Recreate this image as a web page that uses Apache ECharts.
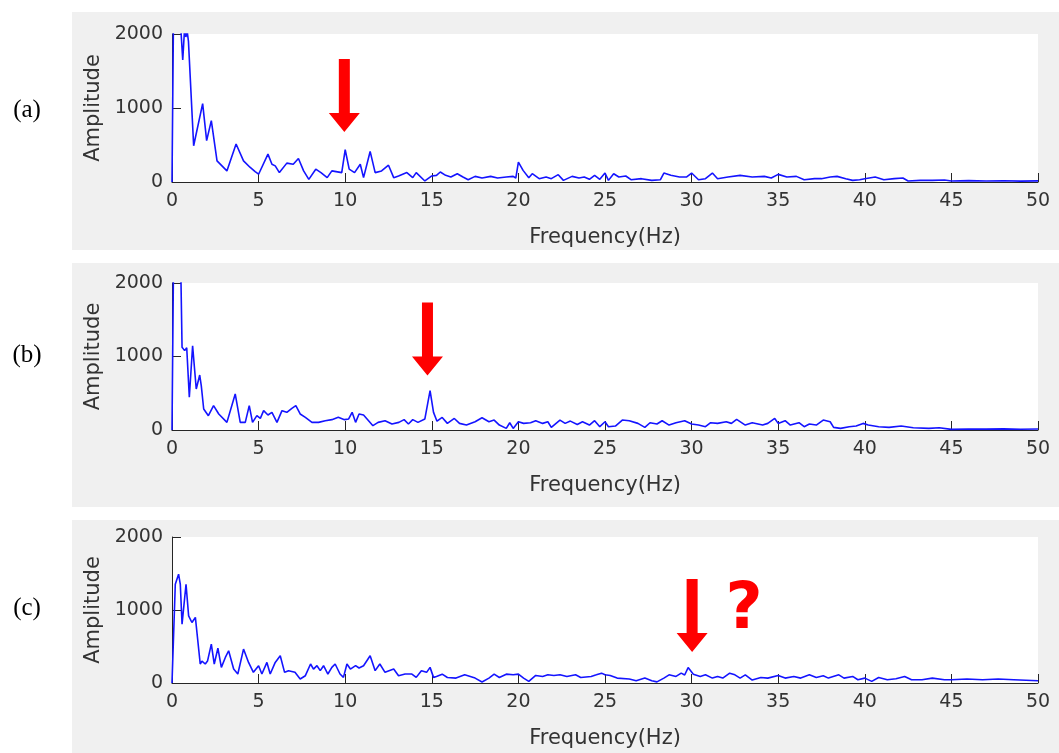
<!DOCTYPE html>
<html>
<head>
<meta charset="utf-8">
<title>Amplitude spectra</title>
<script src="https://cdn.jsdelivr.net/npm/echarts@6/dist/echarts.min.js"></script>
<style>
  html, body { margin: 0; padding: 0; background: #fff; }
  #main { width: 1059px; height: 753px; }
</style>
</head>
<body>
<div id="main"></div>
<script>
// --- data ---
var freqA = [0, 0.1, 0.3, 0.45, 0.62, 0.72, 0.8, 0.88, 0.95, 1.25, 1.77, 2.0, 2.27, 2.6, 3.17, 3.7, 4.13, 4.5, 4.8, 5.0,
  5.54, 5.77, 5.96, 6.2, 6.63, 7.0, 7.3, 7.6, 7.9, 8.3, 8.6, 8.96, 9.23, 9.8, 10.0, 10.23, 10.54, 10.87, 11.06, 11.44,
  11.73, 12.1, 12.5, 12.8, 13.08, 13.56, 13.9, 14.1, 14.6, 15.0, 15.27, 15.49, 15.8, 16.1, 16.47, 16.8, 17.1, 17.5, 17.9, 18.4,
  18.8, 19.3, 19.7, 19.85, 20.0, 20.27, 20.6, 20.8, 21.2, 21.6, 21.9, 22.3, 22.6, 23.1, 23.5, 23.8, 24.1, 24.4, 24.7, 25.0,
  25.2, 25.5, 25.8, 26.2, 26.5, 27.1, 27.7, 28.2, 28.4, 28.8, 29.3, 29.7, 30.0, 30.4, 30.8, 31.2, 31.5, 32.1, 32.8, 33.5,
  34.2, 34.6, 35.0, 35.5, 36.05, 36.5, 37.1, 37.5, 38.0, 38.4, 38.9, 39.3, 39.7, 40.0, 40.6, 41.1, 41.7, 42.2, 42.5, 43.2,
  43.9, 44.6, 45.0, 46, 47, 48, 49, 50];
var ampA = [0, 2600, 2450, 2300, 1650, 2050, 1960, 2030, 1900, 490, 1060, 560, 830, 286, 150, 514, 286, 200, 140, 105,
  377, 240, 218, 127, 255, 240, 318, 150, 36, 173, 127, 59, 150, 127, 436, 173, 127, 240, 59, 413,
  127, 150, 227, 59, 82, 127, 59, 127, 14, 82, 90, 135, 90, 67, 112, 67, 31, 76, 54, 76,
  54, 67, 76, 54, 270, 157, 58, 112, 45, 67, 45, 99, 22, 76, 54, 67, 36, 90, 36, 121,
  22, 112, 67, 81, 31, 45, 22, 31, 121, 90, 67, 67, 121, 31, 45, 121, 45, 67, 90, 67,
  76, 54, 103, 67, 76, 31, 45, 45, 67, 76, 45, 22, 31, 45, 67, 31, 45, 54, 13, 22,
  22, 27, 13, 18, 14, 17, 12, 15];

var freqB = [0, 0.1, 0.3, 0.5, 0.58, 0.73, 0.85, 1.0, 1.19, 1.4, 1.6, 1.69, 1.83, 2.1, 2.4, 2.7, 3.17, 3.65, 3.94, 4.23,
  4.46, 4.65, 4.9, 5.1, 5.29, 5.54, 5.77, 6.06, 6.35, 6.63, 6.92, 7.15, 7.4, 7.7, 8.08, 8.46, 8.85, 9.23, 9.6, 9.96,
  10.2, 10.4, 10.6, 10.8, 11.06, 11.35, 11.6, 11.9, 12.3, 12.7, 13.1, 13.4, 13.65, 13.9, 14.2, 14.6, 14.9, 15.1, 15.3, 15.6,
  15.9, 16.3, 16.6, 17.0, 17.5, 17.9, 18.3, 18.6, 18.9, 19.3, 19.5, 19.7, 20.0, 20.3, 20.7, 21.0, 21.4, 21.7, 21.9, 22.4,
  22.7, 23.0, 23.4, 23.7, 24.1, 24.4, 24.7, 25.0, 25.2, 25.6, 26.0, 26.4, 26.9, 27.3, 27.6, 28.0, 28.3, 28.7, 29.1, 29.6,
  30.0, 30.4, 30.8, 31.1, 31.5, 32.0, 32.3, 32.6, 33.1, 33.5, 34.1, 34.4, 34.8, 35.0, 35.4, 35.7, 36.2, 36.5, 36.8, 37.2,
  37.6, 38.0, 38.2, 38.6, 39.1, 39.5, 39.9, 40.2, 40.8, 41.4, 42.1, 42.8, 43.7, 44.3, 45.0, 46, 47, 48, 49, 50];
var ampB = [0, 2600, 2500, 2300, 1125, 1080, 1120, 445, 1147, 558, 748, 603, 286, 195, 331, 218, 104, 490, 104, 104,
  331, 104, 195, 159, 263, 204, 240, 104, 263, 240, 295, 331, 218, 172, 104, 104, 127, 141, 172, 141,
  150, 240, 104, 218, 204, 127, 59, 104, 127, 82, 104, 141, 82, 141, 104, 150, 535, 240, 120, 171,
  90, 157, 90, 67, 112, 166, 112, 135, 67, 22, 99, 22, 112, 90, 99, 126, 90, 112, 36, 135,
  90, 121, 76, 112, 67, 126, 45, 112, 45, 54, 135, 126, 90, 36, 99, 81, 126, 67, 99, 126,
  81, 67, 45, 99, 90, 112, 90, 144, 67, 99, 67, 90, 157, 90, 126, 67, 99, 45, 81, 67,
  135, 112, 36, 22, 45, 54, 90, 67, 45, 36, 54, 31, 22, 31, 9, 14, 12, 15, 11, 13];

var freqC = [0, 0.19, 0.38, 0.48, 0.58, 0.81, 0.96, 1.15, 1.35, 1.45, 1.63, 1.73, 1.92, 2.05, 2.27, 2.44, 2.65, 2.85, 3.08, 3.27,
  3.56, 3.8, 4.13, 4.42, 4.7, 5.0, 5.19, 5.48, 5.67, 5.96, 6.25, 6.5, 6.73, 7.1, 7.4, 7.7, 8.0, 8.17, 8.37, 8.56,
  8.75, 9.0, 9.23, 9.42, 9.7, 9.9, 10.1, 10.3, 10.6, 10.8, 11.06, 11.44, 11.73, 12.0, 12.3, 12.8, 13.08, 13.46, 13.85, 14.1,
  14.4, 14.7, 14.9, 15.1, 15.27, 15.6, 15.9, 16.4, 16.9, 17.5, 17.9, 18.3, 18.6, 18.9, 19.3, 19.7, 20.0, 20.3, 20.6, 21.0,
  21.4, 21.7, 22.05, 22.4, 22.8, 23.3, 23.6, 24.2, 24.5, 24.8, 25.0, 25.3, 25.7, 26.4, 26.8, 27.3, 27.7, 28.0, 28.4, 28.7,
  29.1, 29.4, 29.6, 29.8, 30.1, 30.5, 30.8, 31.2, 31.5, 31.8, 32.2, 32.5, 32.8, 33.1, 33.5, 34.0, 34.4, 35.0, 35.4, 35.9,
  36.3, 36.8, 37.2, 37.6, 37.9, 38.5, 38.8, 39.3, 39.6, 40.0, 40.4, 40.8, 41.3, 41.8, 42.3, 42.7, 43.3, 43.9, 44.6, 45.0,
  45.9, 46.8, 47.7, 48.6, 50];
var ampC = [0, 1353, 1490, 1350, 806, 1353, 920, 829, 898, 880, 260, 300, 260, 300, 533, 260, 478, 214, 350, 442,
  191, 123, 465, 282, 146, 237, 123, 282, 123, 282, 374, 146, 169, 146, 55, 100, 260, 191, 237, 169,
  237, 123, 214, 260, 123, 77, 260, 191, 237, 205, 237, 374, 169, 260, 146, 191, 100, 123, 123, 77,
  169, 146, 214, 77, 90, 121, 76, 67, 112, 67, 13, 67, 121, 76, 121, 112, 121, 67, 22, 103,
  90, 112, 103, 112, 90, 112, 76, 90, 112, 135, 112, 103, 67, 54, 31, 67, 31, 15, 67, 112,
  90, 135, 110, 211, 121, 90, 112, 67, 90, 67, 135, 112, 67, 112, 40, 76, 67, 103, 67, 90,
  67, 112, 76, 99, 67, 112, 67, 90, 45, 67, 22, 76, 45, 58, 90, 45, 45, 67, 45, 45,
  54, 45, 54, 45, 31];

var panelLabels = ['(a)', '(b)', '(c)'];
var arrowAt = [[9.95, 1169], [14.75, 1238], [30.03, 925]];

function pairs(f, a) {
  var out = [];
  for (var i = 0; i < f.length; i++) out.push([f[i], a[i]]);
  return out;
}
var seriesData = [pairs(freqA, ampA), pairs(freqB, ampB), pairs(freqC, ampC)];

// layout of the three panels (pixels)
var panels = [
  { bgTop: 12, bgH: 238, top: 34, h: 148, labelY: 110 },
  { bgTop: 263, bgH: 244, top: 283, h: 147, labelY: 355 },
  { bgTop: 520, bgH: 240, top: 537, h: 146, labelY: 608 }
];

var txt = '#333333';
var ax = '#262626';
var font = 'DejaVu Sans';
var arrowPath = 'path://M10,0L21,0L21,54L31,54L15.5,73L0,54L10,54Z';

var myChart = echarts.init(document.getElementById('main'), null, { renderer: 'canvas' });

var grids = [], xAxes = [], yAxes = [], series = [], graphics = [];
panels.forEach(function (p, i) {
  graphics.push({
    type: 'rect', z: -100,
    shape: { x: 72, y: p.bgTop, width: 1000, height: p.bgH },
    style: { fill: '#f0f0f0' }
  });
  graphics.push({
    type: 'text', z: 100, x: 27, y: p.labelY,
    style: { text: panelLabels[i], fill: '#000', font: '25px "Liberation Serif"', textAlign: 'center', textVerticalAlign: 'middle' }
  });
  grids.push({
    left: 172, top: p.top, width: 866, height: p.h,
    show: true, backgroundColor: '#ffffff', borderWidth: 0
  });
  xAxes.push({
    gridIndex: i, type: 'value', min: 0, max: 50, interval: 5,
    name: 'Frequency(Hz)', nameLocation: 'middle', nameGap: 45,
    nameTextStyle: { color: txt, fontSize: 21, fontFamily: font },
    axisLine: { show: true, onZero: false, lineStyle: { color: ax, width: 1 } },
    axisTick: { show: true, inside: true, length: 9, lineStyle: { color: ax } },
    axisLabel: { color: txt, fontSize: 19, fontFamily: font, margin: 10 },
    splitLine: { show: false }
  });
  yAxes.push({
    gridIndex: i, type: 'value', min: 0, max: 2000, interval: 1000,
    name: 'Amplitude', nameLocation: 'middle', nameGap: 54,
    nameTextStyle: { color: txt, fontSize: 21, fontFamily: font },
    axisLine: { show: true, lineStyle: { color: ax, width: 1 } },
    axisTick: { show: true, inside: true, length: 9, lineStyle: { color: ax } },
    axisLabel: {
      color: txt, fontSize: 19, fontFamily: font, margin: 9,
      formatter: function (v) { return String(v); }
    },
    splitLine: { show: false }
  });
  series.push({
    type: 'line', xAxisIndex: i, yAxisIndex: i,
    data: seriesData[i], showSymbol: false, clip: true,
    lineStyle: { color: '#1414ff', width: 1.6 },
    markPoint: {
      silent: true,
      symbol: arrowPath, symbolSize: [31, 73], symbolKeepAspect: false,
      itemStyle: { color: '#ff0000' },
      label: { show: false },
      data: [{ coord: arrowAt[i] }]
    }
  });
});

graphics.push({
  type: 'text', z: 100, x: 744, y: 611,
  style: { text: '?', fill: '#ff0000', font: 'bold 64px "DejaVu Sans"', textAlign: 'center', textVerticalAlign: 'middle' }
});

var option = {
  animation: false,
  backgroundColor: '#ffffff',
  graphic: graphics,
  grid: grids,
  xAxis: xAxes,
  yAxis: yAxes,
  series: series
};

myChart.setOption(option);
window.addEventListener('resize', function () { myChart.resize(); });
</script>
</body>
</html>
